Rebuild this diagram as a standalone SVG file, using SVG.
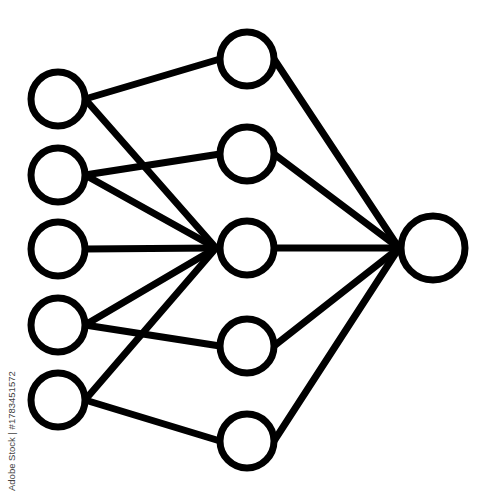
<svg xmlns="http://www.w3.org/2000/svg" width="500" height="500" viewBox="0 0 500 500">
<style>
.n{fill:#fff;stroke:#000;stroke-width:7}
.c line{stroke:#000;stroke-width:7;stroke-linecap:round}
.w{font-family:"Liberation Sans",Arial,sans-serif;font-size:9.5px;fill:#444}
</style>
<rect width="500" height="500" fill="#fff"/>
<g class="c" id="connectors">
<line x1="85" y1="99" x2="220" y2="59"/>
<line x1="85" y1="99" x2="216" y2="248"/>
<line x1="85" y1="175" x2="220" y2="154"/>
<line x1="85" y1="175" x2="216" y2="248"/>
<line x1="85" y1="249" x2="216" y2="248"/>
<line x1="85" y1="325" x2="216" y2="248"/>
<line x1="85" y1="325" x2="220" y2="346"/>
<line x1="85" y1="400" x2="216" y2="248"/>
<line x1="85" y1="400" x2="220" y2="441"/>
<line x1="274" y1="59" x2="399" y2="248"/>
<line x1="274" y1="154" x2="399" y2="248"/>
<line x1="274" y1="248" x2="399" y2="248"/>
<line x1="274" y1="346" x2="399" y2="248"/>
<line x1="274" y1="441" x2="399" y2="248"/>
</g>
<g id="in1"><circle class="n" cx="58" cy="99" r="27"/></g>
<g id="in2"><circle class="n" cx="58" cy="175" r="27"/></g>
<g id="in3"><circle class="n" cx="58" cy="249" r="27"/></g>
<g id="in4"><circle class="n" cx="58" cy="325" r="27"/></g>
<g id="in5"><circle class="n" cx="58" cy="400" r="27"/></g>
<g id="h1"><circle class="n" cx="247" cy="59" r="27"/></g>
<g id="h2"><circle class="n" cx="247" cy="154" r="27"/></g>
<g id="h3"><circle class="n" cx="247" cy="248" r="27"/></g>
<g id="h4"><circle class="n" cx="247" cy="346" r="27"/></g>
<g id="h5"><circle class="n" cx="247" cy="441" r="27"/></g>
<g id="out"><circle class="n" cx="433" cy="248" r="32"/></g>
<text class="w" x="15" y="491" transform="rotate(-90 15 491)">Adobe Stock | #1783451572</text>
</svg>
